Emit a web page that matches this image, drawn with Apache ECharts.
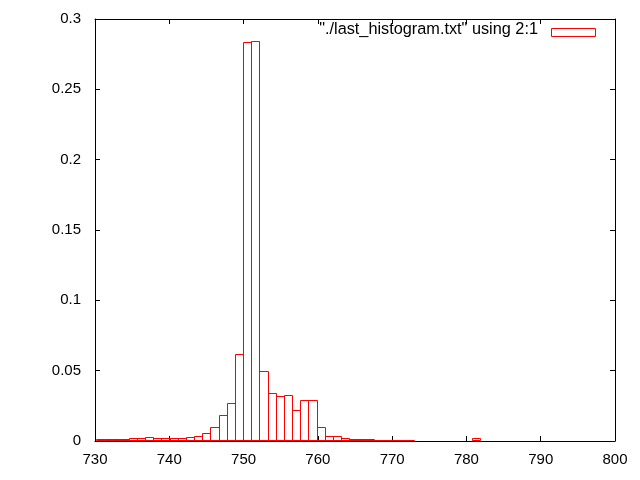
<!DOCTYPE html>
<html>
<head>
<meta charset="utf-8">
<script src="https://cdn.jsdelivr.net/npm/echarts@6/dist/echarts.min.js"></script>
<style>
html,body{margin:0;padding:0;background:#fff;}
#chart{width:640px;height:480px;}
</style>
</head>
<body>
<div id="chart"></div>
<script>
// Bin centers (x, column 2) and histogram values (y, column 1)
const binCenters = [730.70, 731.80, 732.90, 734.00, 735.10, 736.19, 737.29, 738.39, 739.49, 740.59,
  741.69, 742.79, 743.89, 744.99, 746.09, 747.18, 748.28, 749.38, 750.48, 751.58,
  752.68, 753.78, 754.88, 755.98, 757.07, 758.17, 759.27, 760.37, 761.47, 762.57,
  763.67, 764.77, 765.87, 766.97, 768.07, 769.16, 770.26, 771.36, 772.46, 781.25];
const binValues = [0.0011, 0.0011, 0.0011, 0.0011, 0.0018, 0.0018, 0.0025, 0.0018, 0.0018, 0.0018,
  0.0018, 0.0025, 0.0039, 0.0060, 0.0103, 0.0182, 0.0267, 0.0616, 0.2836, 0.2843,
  0.0495, 0.0338, 0.0317, 0.0324, 0.0217, 0.0288, 0.0295, 0.0103, 0.0039, 0.0032,
  0.0018, 0.0011, 0.0011, 0.0011, 0.0004, 0.0004, 0.0004, 0.0004, 0.0004, 0.0018];
const binWidth = 1.099;
const xTicks = [730, 740, 750, 760, 770, 780, 790, 800];
const yTicks = [0, 0.05, 0.1, 0.15, 0.2, 0.25, 0.3];
const seriesName = '"./last_histogram.txt" using 2:1';

const FONT = 'Liberation Sans, Arial, sans-serif';
const data = binCenters.map((c, i) => [c, binValues[i]]);

const chart = echarts.init(document.getElementById('chart'), null, {renderer: 'canvas'});

function axisCommon(showLabel) {
  return {
    axisLine: {show: true, onZero: false, lineStyle: {color: '#000', width: 1}},
    axisTick: {show: true, inside: true, length: 5, lineStyle: {color: '#000', width: 1}},
    splitLine: {show: false},
    axisLabel: {show: showLabel, color: '#000', fontSize: 15, fontFamily: FONT}
  };
}

const option = {
  animation: false,
  backgroundColor: '#fff',
  grid: {left: 95, right: 25, top: 19, bottom: 39, containLabel: false},
  xAxis: [
    Object.assign({type: 'value', position: 'bottom', min: xTicks[0], max: xTicks[xTicks.length - 1], interval: 10}, axisCommon(true), {axisLabel: {show: true, color: '#000', fontSize: 15, fontFamily: FONT, margin: 11}}),
    Object.assign({type: 'value', position: 'top', min: xTicks[0], max: xTicks[xTicks.length - 1], interval: 10}, axisCommon(false))
  ],
  yAxis: [
    Object.assign({type: 'value', position: 'left', min: yTicks[0], max: yTicks[yTicks.length - 1], interval: 0.05}, axisCommon(true), {axisLabel: {show: true, color: '#000', fontSize: 15, fontFamily: FONT, margin: 14}}),
    Object.assign({type: 'value', position: 'right', min: yTicks[0], max: yTicks[yTicks.length - 1], interval: 0.05}, axisCommon(false))
  ],
  series: [{
    type: 'custom',
    name: seriesName,
    xAxisIndex: 0,
    yAxisIndex: 0,
    silent: true,
    clip: true,
    data: data,
    renderItem: function (params, api) {
      const c = api.value(0), v = api.value(1);
      const pTop = api.coord([c - binWidth / 2, v]);
      const pBot = api.coord([c + binWidth / 2, 0]);
      const x0 = Math.round(pTop[0]) + 0.5, x1 = Math.round(pBot[0]) + 0.5;
      const y0 = Math.round(pTop[1]) + 0.5, y1 = Math.round(pBot[1]) - 0.5;
      return {
        type: 'rect',
        shape: {x: x0, y: y0, width: x1 - x0, height: y1 - y0},
        style: {fill: 'none', stroke: '#ff0000', lineWidth: 1}
      };
    }
  }],
  graphic: [
    {type: 'text', right: 102, top: 22, style: {text: seriesName, fill: '#000', fontSize: 16.3, fontFamily: FONT, textAlign: 'right'}},
    {type: 'rect', shape: {x: 551.5, y: 28.5, width: 44, height: 8}, style: {fill: 'none', stroke: '#ff0000', lineWidth: 1}}
  ]
};
chart.setOption(option);
</script>
</body>
</html>
